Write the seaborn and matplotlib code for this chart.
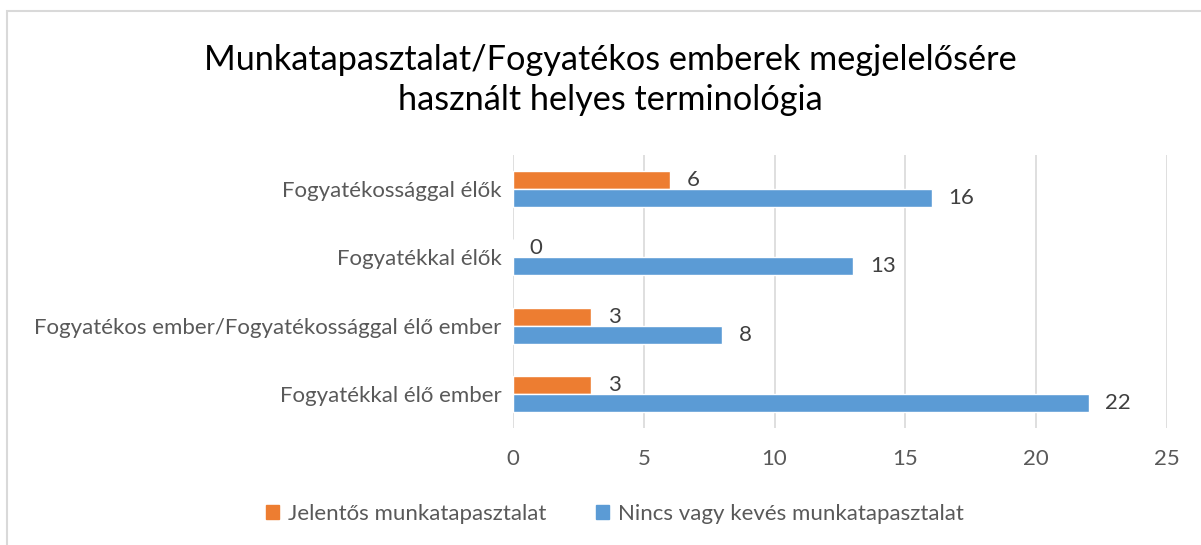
import matplotlib
matplotlib.use("Agg")
import matplotlib.pyplot as plt
from matplotlib.patches import Rectangle
import seaborn as sns
import pandas as pd

categories = [
    "Fogyatékossággal élők",
    "Fogyatékkal élők",
    "Fogyatékos ember/Fogyatékossággal élő ember",
    "Fogyatékkal élő ember",
]
series_names = ["Jelentős munkatapasztalat", "Nincs vagy kevés munkatapasztalat"]
significant_exp = [6, 0, 3, 3]
little_or_no_exp = [16, 13, 8, 22]
x_ticks = [0, 5, 10, 15, 20, 25]
title = "Munkatapasztalat/Fogyatékos emberek megjelelősére\nhasznált helyes terminológia"

colors = ["#ED7D31", "#5B9BD5"]

df = pd.DataFrame({
    "kategória": categories * 2,
    "sorozat": [series_names[0]] * len(categories) + [series_names[1]] * len(categories),
    "érték": significant_exp + little_or_no_exp,
})

sns.set_theme(style="white")
plt.rcParams["font.family"] = ["Lato", "DejaVu Sans"]

fig = plt.figure(figsize=(12.01, 5.45), dpi=100)
ax = fig.add_axes([0.4271, 0.2147, 0.5446, 0.5009])

sns.barplot(
    data=df, y="kategória", x="érték", hue="sorozat",
    order=categories, hue_order=series_names, palette=colors,
    orient="h", width=0.53, saturation=1, ax=ax, legend=False,
)

for cont in ax.containers:
    ax.bar_label(cont, padding=12, fontsize=16, color="#404040")

ax.set_xlim(0, 25)
ax.set_ylim(3.5, -0.5)
ax.set_xticks(x_ticks)
ax.set_xticklabels([str(t) for t in x_ticks])
ax.set_xlabel("")
ax.set_ylabel("")
ax.grid(axis="x", color="#D9D9D9", linewidth=1.2)
ax.set_axisbelow(True)
for s in ax.spines.values():
    s.set_visible(False)
ax.tick_params(axis="x", length=0, pad=15, labelsize=16, labelcolor="#595959")
ax.tick_params(axis="y", length=0, pad=8, labelsize=16, labelcolor="#595959")

fig.text(0.508, 0.853, title, ha="center", va="center", fontsize=24.7,
         color="#000000", linespacing=1.32)

handles = [Rectangle((0, 0), 1, 1, color=c) for c in colors]
fig.legend(handles, series_names, loc="center", bbox_to_anchor=(0.512, 0.057),
           ncol=2, frameon=False, fontsize=16, labelcolor="#595959",
           handlelength=0.6, handleheight=0.6, columnspacing=2.2, handletextpad=0.4)

fig.patches.append(Rectangle((0.0058, -0.05), 1.1, 0.9798 + 0.05,
                             transform=fig.transFigure, fill=False,
                             edgecolor="#D9D9D9", linewidth=1.5))

fig.savefig("out.png", dpi=100)
